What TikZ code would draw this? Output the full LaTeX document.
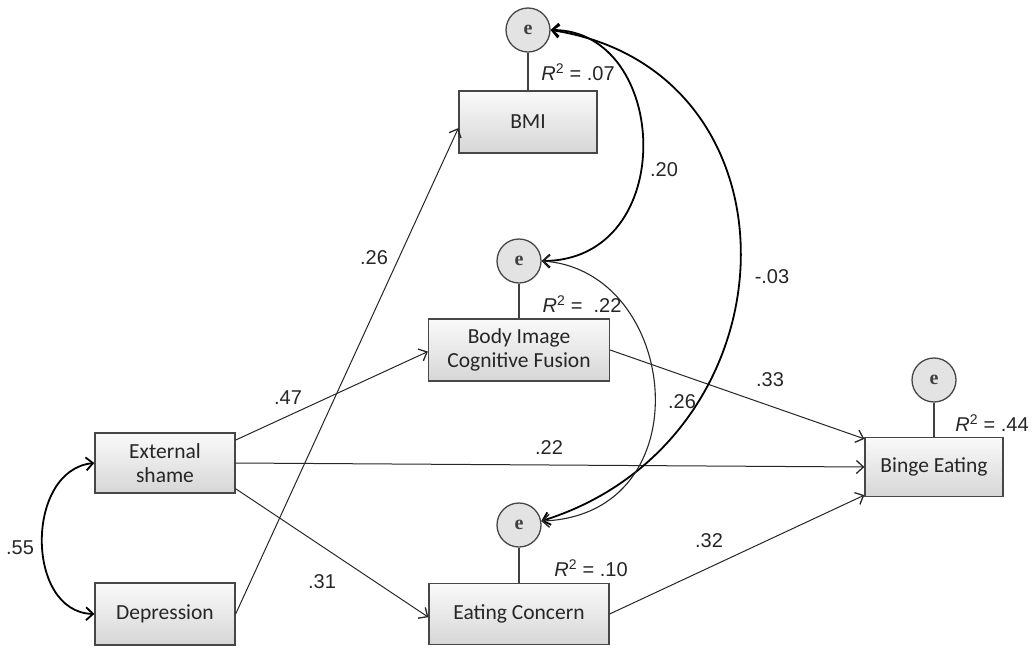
\documentclass[tikz,border=0pt]{standalone}
\usepackage{fontspec}
\setmainfont{Liberation Sans}
\newfontfamily\boxfont{Carlito}
\newfontfamily\efont{Liberation Serif}
\usetikzlibrary{arrows.meta}
\newcommand{\Rsq}[1]{{\itshape R}\textsuperscript{2} = #1}
\begin{document}
\begin{tikzpicture}[x=1pt,y=-1pt,
  box/.style={draw=black!72, line width=1.3pt, top color=gray!4, bottom color=gray!32,
    align=center, inner sep=0pt, font=\boxfont\fontsize{21.5}{24}\selectfont, text=black!85},
  err/.style={circle, draw=black!72, line width=1.3pt, fill=gray!22, minimum size=44pt,
    inner sep=0pt, font=\efont\bfseries\fontsize{20}{20}\selectfont, text=black!75},
  stem/.style={draw=black!75, line width=1.2pt},
  pth/.style={draw=black!85, line width=1pt, -{Straight Barb[length=7pt,width=13pt,line width=1.3pt]}},
  cov/.style={draw=black, line width=1.8pt, {Straight Barb[length=7pt,width=13pt]}-{Straight Barb[length=7pt,width=13pt]}},
  covthin/.style={draw=black!85, line width=1.1pt, {Straight Barb[length=7pt,width=13pt,line width=1.4pt]}-{Straight Barb[length=7pt,width=13pt,line width=1.4pt]}},
  lab/.style={font=\fontsize{20}{22}\selectfont, inner sep=0pt, text=black!85}
]
\useasboundingbox (0,0) rectangle (1034,648);

% boxes
\node[box, minimum width=138pt, minimum height=62pt] (bmi) at (528,122) {BMI};
\node[box, minimum width=181pt, minimum height=62pt] (bicf) at (519,350) {Body Image\\Cognitive Fusion};
\node[box, minimum width=140pt, minimum height=60pt] (es) at (165,463) {External\\shame};
\node[box, minimum width=140pt, minimum height=62pt] (dep) at (165,614) {Depression};
\node[box, minimum width=180pt, minimum height=61pt] (ec) at (519,614) {Eating Concern};
\node[box, minimum width=138pt, minimum height=59pt] (be) at (934,467) {Binge Eating};

% error terms
\node[err] (e1) at (528,30) {e};
\node[err] (e2) at (519,261) {e};
\node[err] (e3) at (519,525) {e};
\node[err] (e4) at (934,380) {e};

\draw[stem] (e1.south) -- (e1.south |- bmi.north);
\draw[stem] (e2.south) -- (e2.south |- bicf.north);
\draw[stem] (e3.south) -- (e3.south |- ec.north);
\draw[stem] (e4.south) -- (e4.south |- be.north);

% paths
\draw[pth] (dep.east) -- (bmi.185);
\draw[pth] (es.18) -- (bicf.181);
\draw[pth] (es.east) -- (be.west);
\draw[pth] (es.-20) -- (ec.182);
\draw[pth] (bicf.east) -- (be.158);
\draw[pth] (ec.east) -- (be.202);

% covariances
\draw[cov] (es.west) .. controls (25,470) and (25,612) .. (dep.west);
\draw[cov] (e1.east) .. controls (670,30) and (680,260) .. (e2.east);
\draw[cov] (e1.east) .. controls (810,70) and (800,440) .. (e3.10);
\draw[covthin] (e2.east) .. controls (680,270) and (705,515) .. (e3.10);

% coefficient labels
\node[lab] (l1) at (374,258) {.26};
\node[lab] (l2) at (288,398) {.47};
\node[lab] (l3) at (549,448) {.22};
\node[lab] (l4) at (322,582) {.31};
\node[lab] (l5) at (770,380) {.33};
\node[lab] (l6) at (709,541) {.32};
\node[lab] (l7) at (20,548) {.55};
\node[lab] (l8) at (664,170) {.20};
\node[lab] (l9) at (772,277) {-.03};
\node[lab] (l10) at (682,402) {.26};

% R squared
\node[lab] (r1) at (578,72) {\Rsq{.07}};
\node[lab] (r2) at (582,304) {\Rsq{\ .22}};
\node[lab] (r3) at (591,568) {\Rsq{.10}};
\node[lab] (r4) at (992,423) {\Rsq{.44}};
\end{tikzpicture}
\end{document}
